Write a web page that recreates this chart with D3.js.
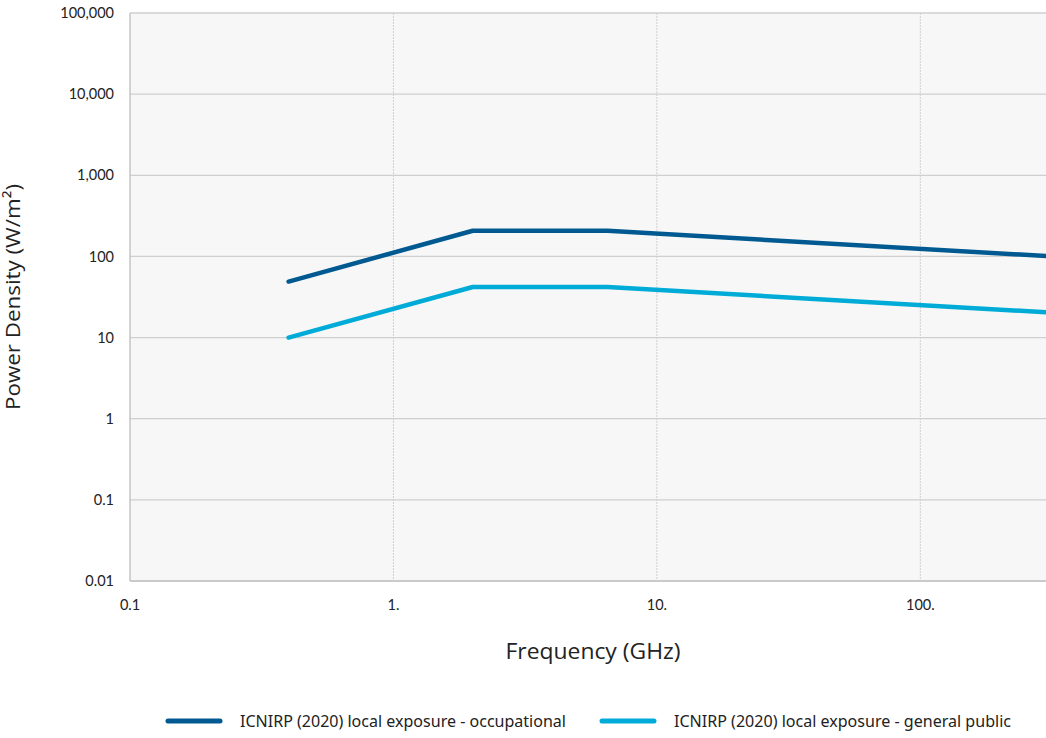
<!DOCTYPE html>
<html><head><meta charset="utf-8">
<script src="https://cdn.jsdelivr.net/npm/d3@7"></script>
<style>body{margin:0;background:#fff}svg{display:block}</style>
</head><body>
<svg id="c" width="1046" height="738"></svg>
<script>
const freqs = [0.4, 2, 6.5, 300];
const occupational = [49, 207, 207, 101];
const generalPublic = [10, 42, 42, 20.5];
const yTicks = [0.01, 0.1, 1, 10, 100, 1000, 10000, 100000];
const yTickLabels = ["0.01", "0.1", "1", "10", "100", "1,000", "10,000", "100,000"];
const xTicks = [0.1, 1, 10, 100];
const xTickLabels = ["0.1", "1.", "10.", "100."];
const seriesNames = ["ICNIRP (2020) local exposure - occupational", "ICNIRP (2020) local exposure - general public"];
const colors = ["#005a91", "#00acd7"];

const svg = d3.select("#c");
const L = 130, R = 1046, T = 13, B = 581;
const x = d3.scaleLog().domain([0.1, 300]).range([L, R]);
const y = d3.scaleLog().domain([0.01, 100000]).range([B, T]);

svg.append("rect").attr("x", L).attr("y", T).attr("width", R - L).attr("height", B - T).attr("fill", "#f7f7f7");

svg.append("g").selectAll("line").data(yTicks).join("line")
  .attr("x1", L).attr("x2", R).attr("y1", d => y(d)).attr("y2", d => y(d))
  .attr("stroke", "#cfcfcf").attr("stroke-width", 1.3);
svg.append("g").selectAll("line").data(xTicks.slice(1)).join("line")
  .attr("x1", d => x(d)).attr("x2", d => x(d)).attr("y1", T).attr("y2", B)
  .attr("stroke", "#cfcfcf").attr("stroke-width", 1).attr("stroke-dasharray", "2,1");
svg.append("line").attr("x1", L).attr("x2", L).attr("y1", T).attr("y2", B).attr("stroke", "#c4c4c4").attr("stroke-width", 1.5);
svg.append("line").attr("x1", L).attr("x2", R).attr("y1", B).attr("y2", B).attr("stroke", "#c4c4c4").attr("stroke-width", 1.5);

const font = "Lato, 'Open Sans', sans-serif";
svg.append("g").selectAll("text").data(yTicks).join("text")
  .attr("x", 114).attr("y", d => y(d)).attr("dy", "0.35em").attr("text-anchor", "end")
  .attr("font-family", font).attr("font-size", 14.5).attr("fill", "#222")
  .text((d, i) => yTickLabels[i]);
svg.append("g").selectAll("text").data(xTicks).join("text")
  .attr("x", d => x(d)).attr("y", 610).attr("text-anchor", "middle")
  .attr("font-family", font).attr("font-size", 14.5).attr("fill", "#222")
  .text((d, i) => xTickLabels[i]);

svg.append("text").attr("x", 593).attr("y", 659).attr("text-anchor", "middle")
  .attr("font-family", "'Open Sans', sans-serif").attr("font-size", 21).attr("fill", "#222")
  .attr("textLength", 175).attr("lengthAdjust", "spacingAndGlyphs")
  .text("Frequency (GHz)");
svg.append("text").attr("transform", "translate(20,297) rotate(-90)").attr("text-anchor", "middle")
  .attr("font-family", "'Open Sans', sans-serif").attr("font-size", 20).attr("fill", "#222")
  .attr("textLength", 226).attr("lengthAdjust", "spacingAndGlyphs")
  .text("Power Density (W/m²)");

const line = d3.line().x(d => x(d[0])).y(d => y(d[1]));
[occupational, generalPublic].forEach((vals, i) => {
  svg.append("path").datum(freqs.map((f, j) => [f, vals[j]]))
    .attr("d", line).attr("fill", "none").attr("stroke", colors[i]).attr("stroke-width", 4.5)
    .attr("stroke-linecap", "round").attr("stroke-linejoin", "round");
});

const legX = [168, 602], textX = [240, 674];
seriesNames.forEach((n, i) => {
  svg.append("line").attr("x1", legX[i]).attr("x2", legX[i] + 52).attr("y1", 721).attr("y2", 721)
    .attr("stroke", colors[i]).attr("stroke-width", 5).attr("stroke-linecap", "round");
  svg.append("text").attr("x", textX[i]).attr("y", 727)
    .attr("font-family", "'Noto Sans', sans-serif").attr("font-size", 17).attr("fill", "#222")
    .attr("textLength", i === 0 ? 326 : 337).attr("lengthAdjust", "spacingAndGlyphs")
    .text(n);
});
</script>
</body></html>
